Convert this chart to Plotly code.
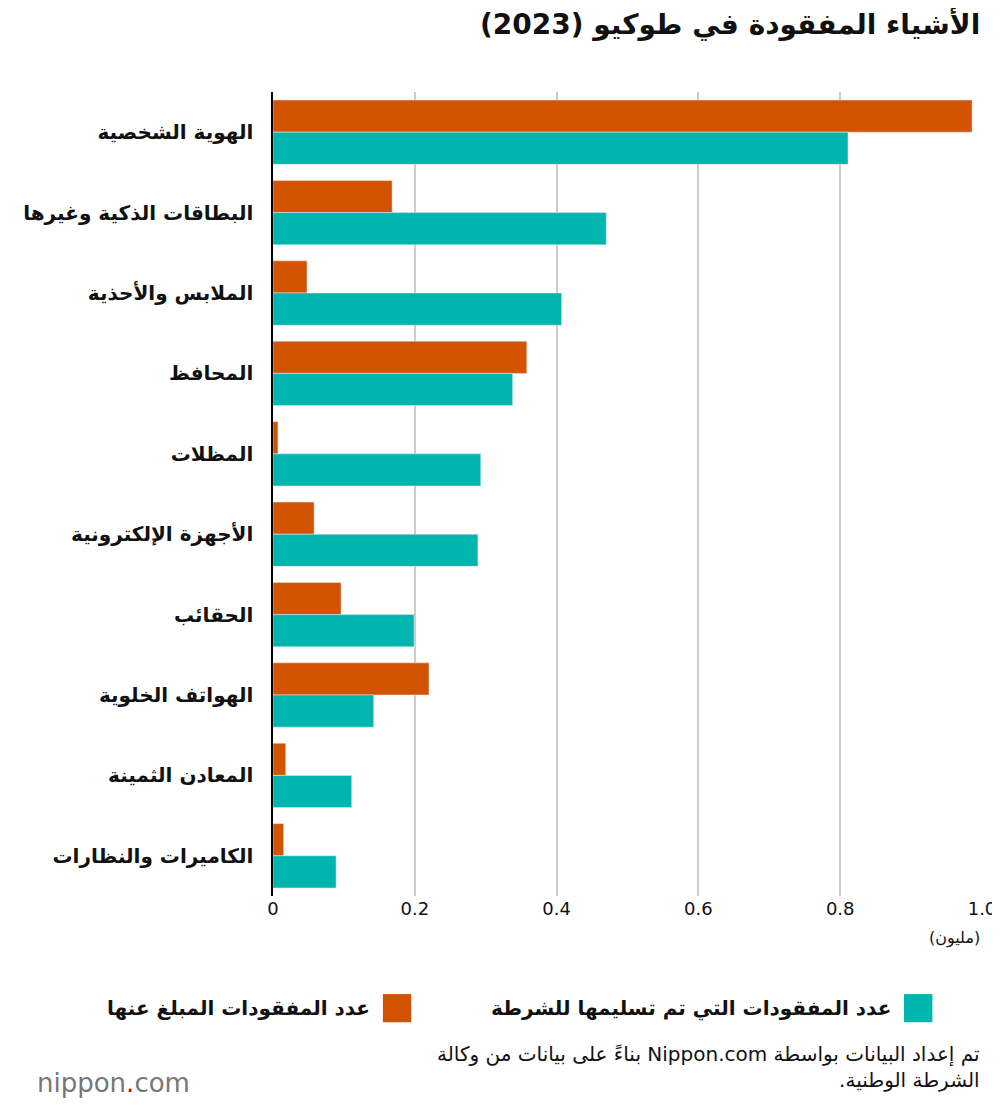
import plotly.graph_objects as go

categories = ["الهوية الشخصية", "البطاقات الذكية وغيرها", "الملابس والأحذية", "المحافظ",
              "المظلات", "الأجهزة الإلكترونية", "الحقائب", "الهواتف الخلوية",
              "المعادن الثمينة", "الكاميرات والنظارات"]
reported = [0.986, 0.168, 0.048, 0.358, 0.007, 0.058, 0.096, 0.220, 0.018, 0.015]
handed_in = [0.811, 0.470, 0.407, 0.338, 0.293, 0.289, 0.199, 0.142, 0.111, 0.089]
tick_vals = [0, 0.2, 0.4, 0.6, 0.8, 1.0]
tick_text = ["0", "0.2", "0.4", "0.6", "0.8", "1.0"]

orange = "#D35400"
teal = "#00B5AD"
font = "DejaVu Sans, Noto Sans"
RTL = "\u202B"
END = "\u202C"

fig = go.Figure()
fig.add_trace(go.Bar(y=categories, x=reported, orientation="h", marker_color=orange,
                     name="عدد المفقودات المبلغ عنها"))
fig.add_trace(go.Bar(y=categories, x=handed_in, orientation="h", marker_color=teal,
                     name="عدد المفقودات التي تم تسليمها للشرطة"))

fig.update_layout(
    width=1000, height=1110, plot_bgcolor="white", paper_bgcolor="white",
    margin=dict(l=265, r=22, t=84, b=222),
    barmode="group", bargap=0.2, bargroupgap=0, showlegend=False,
    font=dict(family=font, size=18, color="#111"),
)
fig.update_xaxes(range=[0, 1.0], tickvals=tick_vals, ticktext=tick_text,
                 showgrid=True, gridcolor="#cccccc", gridwidth=1.5, zeroline=False,
                 tickfont=dict(size=18), ticks="", fixedrange=True)
fig.update_yaxes(autorange="reversed", showline=True, linecolor="black", linewidth=1.5,
                 ticks="", tickfont=dict(size=20, family=font, weight="bold"), ticksuffix="  ")

fig.add_annotation(text="<b>الأشياء المفقودة في طوكيو (2023)</b>", xref="paper", yref="paper",
                   x=1.0, y=1.085, xanchor="right", yanchor="middle", showarrow=False,
                   font=dict(size=28))
fig.add_annotation(text="(مليون)", xref="paper", yref="paper", x=1.0, y=-0.067,
                   xanchor="right", showarrow=False, font=dict(size=16))

# legend drawn manually (symbols on the right of the text)
fig.add_shape(type="rect", xref="paper", yref="paper", x0=0.89, x1=0.93, y0=-0.157, y1=-0.122,
              fillcolor=teal, line_width=0)
fig.add_annotation(text="<b>عدد المفقودات التي تم تسليمها للشرطة</b>", xref="paper", yref="paper",
                   x=0.875, y=-0.1395, xanchor="right", yanchor="middle", showarrow=False,
                   font=dict(size=20))
fig.add_shape(type="rect", xref="paper", yref="paper", x0=0.155, x1=0.195, y0=-0.157, y1=-0.122,
              fillcolor=orange, line_width=0)
fig.add_annotation(text="<b>عدد المفقودات المبلغ عنها</b>", xref="paper", yref="paper",
                   x=0.14, y=-0.1395, xanchor="right", yanchor="middle", showarrow=False,
                   font=dict(size=20))

fig.add_annotation(text=RTL + "تم إعداد البيانات بواسطة Nippon.com بناءً على بيانات من وكالة" + END
                   + "<br>" + RTL + "الشرطة الوطنية." + END,
                   xref="paper", yref="paper", x=1.0, y=-0.213, xanchor="right", yanchor="middle",
                   align="right", showarrow=False, font=dict(size=20))
fig.add_annotation(text="nippon<span style='color:#d00'>.</span>com", xref="paper", yref="paper",
                   x=-0.335, y=-0.232, xanchor="left", yanchor="middle", showarrow=False,
                   font=dict(size=26, color="#777"))

fig.write_html("out.html")
